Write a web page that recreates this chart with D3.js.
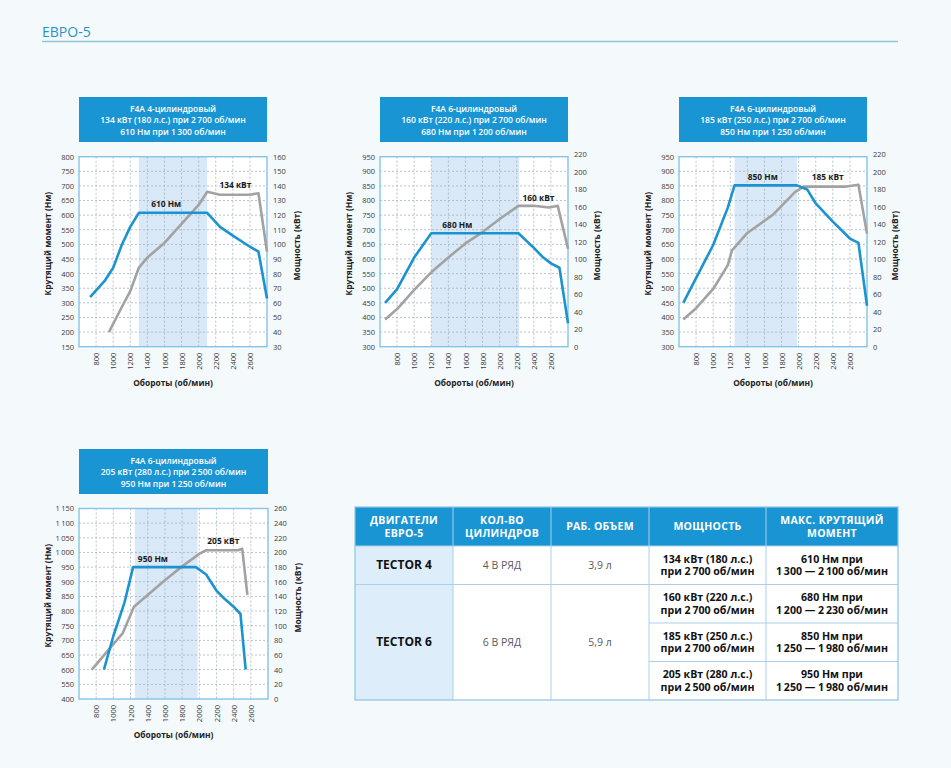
<!DOCTYPE html>
<html><head><meta charset="utf-8">
<script src="https://cdn.jsdelivr.net/npm/d3@7/dist/d3.min.js"></script>
<style>
body{margin:0;background:#f4f9fc;}
svg{display:block;font-family:'Open Sans','Noto Sans',sans-serif;}
</style></head><body>
<svg id="c" width="951" height="768"></svg>
<script>
// ---------- DATA ----------
const rpmDomain = [600, 2800];
const xTicks = [800, 1000, 1200, 1400, 1600, 1800, 2000, 2200, 2400, 2600];

// Chart 1: F4A 4-cyl
const c1Title = ["F4A 4-цилиндровый", "134 кВт (180 л.с.) при 2\u2009700 об/мин", "610 Нм при 1\u2009300 об/мин"];
const c1LeftTicks = [150, 200, 250, 300, 350, 400, 450, 500, 550, 600, 650, 700, 750, 800];
const c1LeftLabels = ["150", "200", "250", "300", "350", "400", "450", "500", "550", "600", "650", "700", "750", "800"];
const c1RightTicks = [30, 40, 50, 60, 70, 80, 90, 100, 110, 120, 130, 140, 150, 160];
const c1Shade = [1300, 2100];
const c1Torque = [[730,320],[900,375],[1000,420],[1100,498],[1200,560],[1300,608],[2100,608],[2250,560],[2400,530],[2600,492],[2700,475],[2800,315]];
const c1Power = [[950,40],[1100,57],[1200,68],[1300,84],[1400,91],[1600,101],[1800,114],[2000,127],[2100,136],[2250,134],[2600,134],[2700,135],[2800,95]];
const c1Labels = ["610 Нм", "134 кВт"];

// Chart 2: F4A 6-cyl 160 kW
const c2Title = ["F4A 6-цилиндровый", "160 кВт (220 л.с.) при 2\u2009700 об/мин", "680 Нм при 1\u2009200 об/мин"];
const c2LeftTicks = [300, 350, 400, 450, 500, 550, 600, 650, 700, 750, 800, 850, 900, 950];
const c2LeftLabels = ["300", "350", "400", "450", "500", "550", "600", "650", "700", "750", "800", "850", "900", "950"];
const c2RightTicks = [0, 20, 40, 60, 80, 100, 120, 140, 160, 180, 200, 220];
const c2Shade = [1200, 2230];
const c2Torque = [[660,450],[800,497],[1000,605],[1200,688],[2220,688],[2400,638],[2500,608],[2600,585],[2700,570],[2800,380]];
const c2Power = [[660,31],[800,43],[1000,65],[1200,85],[1400,102],[1600,118],[1800,131],[2000,146],[2220,161],[2400,161],[2580,159],[2680,161],[2800,112]];
const c2Labels = ["680 Нм", "160 кВт"];

// Chart 3: F4A 6-cyl 185 kW
const c3Title = ["F4A 6-цилиндровый", "185 кВт (250 л.с.) при 2\u2009700 об/мин", "850 Нм при 1\u2009250 об/мин"];
const c3LeftTicks = c2LeftTicks;
const c3LeftLabels = c2LeftLabels;
const c3RightTicks = c2RightTicks;
const c3Shade = [1250, 1980];
const c3Torque = [[650,450],[1000,648],[1170,775],[1250,852],[1980,852],[2100,838],[2200,790],[2400,728],[2600,670],[2700,655],[2800,440]];
const c3Power = [[650,31],[800,44],[1000,66],[1170,93],[1220,110],[1400,130],[1600,144],[1700,151],[1800,161],[1960,177],[2060,183],[2560,183],[2700,185],[2800,129]];
const c3Labels = ["850 Нм", "185 кВт"];

// Chart 4: F4A 6-cyl 205 kW
const c4Title = ["F4A 6-цилиндровый", "205 кВт (280 л.с.) при 2\u2009500 об/мин", "950 Нм при 1\u2009250 об/мин"];
const c4LeftTicks = [500, 550, 600, 650, 700, 750, 800, 850, 900, 950, 1000, 1050, 1100, 1150];
const c4LeftLabels = ["400", "550", "600", "650", "700", "750", "800", "850", "900", "950", "1\u2009000", "1\u2009050", "1\u2009100", "1\u2009150"];
const c4RightTicks = [0, 20, 40, 60, 80, 100, 120, 140, 160, 180, 200, 220, 240, 260];
const c4Shade = [1250, 1980];
const c4Torque = [[890,600],[1000,715],[1130,830],[1230,950],[1960,950],[2080,925],[2200,870],[2300,840],[2400,815],[2480,790],[2540,600]];
const c4Power = [[750,40],[1000,75],[1110,90],[1240,126],[1420,144],[1600,162],[1800,181],[2000,198],[2080,203],[2450,203],[2500,205],[2560,142]];
const c4Labels = ["950 Нм", "205 кВт"];

// Table
const tableHeaders = [["ДВИГАТЕЛИ", "ЕВРО-5"], ["КОЛ-ВО", "ЦИЛИНДРОВ"], ["РАБ. ОБЪЕМ"], ["МОЩНОСТЬ"], ["МАКС. КРУТЯЩИЙ", "МОМЕНТ"]];
const tableEngines = ["TECTOR 4", "TECTOR 6"];
const tableCylinders = ["4 В РЯД", "6 В РЯД"];
const tableVolumes = ["3,9 л", "5,9 л"];
const tablePower = [
  ["134 кВт (180 л.с.)", "при 2\u2009700 об/мин"],
  ["160 кВт (220 л.с.)", "при 2\u2009700 об/мин"],
  ["185 кВт (250 л.с.)", "при 2\u2009700 об/мин"],
  ["205 кВт (280 л.с.)", "при 2\u2009500 об/мин"]];
const tableTorque = [
  ["610 Нм при", "1\u2009300 — 2\u2009100 об/мин"],
  ["680 Нм при", "1\u2009200 — 2\u2009230 об/мин"],
  ["850 Нм при", "1\u2009250 — 1\u2009980 об/мин"],
  ["950 Нм при", "1\u2009250 — 1\u2009980 об/мин"]];

// ---------- STYLE ----------
const BLUE = "#1b93d0", GRAY = "#a2a2a2", BOX = "#1a95d3", SHADE = "#d9e9f8", FRAME = "#86c4e8", GRID = "#9aabb8";

const svg = d3.select("#c");

// Header
svg.append("text").attr("x", 42).attr("y", 37).attr("fill", "#1f95c9")
  .style("font-size", "14px").text("ЕВРО-5");
svg.append("line").attr("x1", 42).attr("x2", 898).attr("y1", 41.5).attr("y2", 41.5)
  .attr("stroke", "#8cc6da").attr("stroke-width", 1.5);

function drawChart(c) {
  const g = svg.append("g");
  const x = d3.scaleLinear().domain(rpmDomain).range([c.x0, c.x1]);
  const yL = d3.scaleLinear().domain([c.leftTicks[0], c.leftTicks[c.leftTicks.length - 1]]).range([c.y1, c.y0]);
  const yR = d3.scaleLinear().domain([c.rightTicks[0], c.rightTicks[c.rightTicks.length - 1]]).range([c.y1, c.y0 - c.rightOver]);

  // title box
  g.append("rect").attr("x", c.x0).attr("y", c.boxY).attr("width", c.x1 - c.x0).attr("height", 45).attr("fill", BOX);
  g.selectAll(".tt").data(c.title).join("text")
    .attr("x", (c.x0 + c.x1) / 2).attr("y", (d, i) => c.boxY + 14.5 + i * 11.6)
    .attr("text-anchor", "middle").attr("fill", "#fff")
    .style("font-size", "8.5px").style("font-weight", 600).text(d => d);

  // plot bg + shade
  g.append("rect").attr("x", c.x0).attr("y", c.y0).attr("width", c.x1 - c.x0).attr("height", c.y1 - c.y0).attr("fill", "#fff");
  g.append("rect").attr("x", x(c.shade[0])).attr("y", c.y0).attr("width", x(c.shade[1]) - x(c.shade[0]))
    .attr("height", c.y1 - c.y0).attr("fill", SHADE);

  // grid
  g.selectAll(".hg").data(c.leftTicks.slice(1, -1)).join("line")
    .attr("x1", c.x0).attr("x2", c.x1).attr("y1", d => yL(d)).attr("y2", d => yL(d))
    .attr("stroke", GRID).attr("stroke-width", 0.7).attr("stroke-dasharray", "2,2");
  g.selectAll(".vg").data(xTicks).join("line")
    .attr("x1", d => x(d)).attr("x2", d => x(d)).attr("y1", c.y0).attr("y2", c.y1)
    .attr("stroke", GRID).attr("stroke-width", 0.7).attr("stroke-dasharray", "2,2");

  // frame
  g.append("rect").attr("x", c.x0).attr("y", c.y0).attr("width", c.x1 - c.x0).attr("height", c.y1 - c.y0)
    .attr("fill", "none").attr("stroke", FRAME).attr("stroke-width", 1.4);

  // axes
  const la = g.append("g").attr("transform", `translate(${c.x0},0)`)
    .call(d3.axisLeft(yL).tickValues(c.leftTicks).tickFormat((d, i) => c.leftLabels[i]).tickSize(0).tickPadding(5));
  const ra = g.append("g").attr("transform", `translate(${c.x1},0)`)
    .call(d3.axisRight(yR).tickValues(c.rightTicks).tickFormat(d3.format("d")).tickSize(0).tickPadding(6));
  const ba = g.append("g").attr("transform", `translate(0,${c.y1})`)
    .call(d3.axisBottom(x).tickValues(xTicks).tickFormat(d3.format("d")).tickSize(0));
  ba.selectAll("text").attr("transform", "rotate(-90)").attr("x", -6).attr("y", 0).attr("dy", "0.35em")
    .attr("text-anchor", "end");
  [la, ra, ba].forEach(a => {
    a.select(".domain").remove();
    a.selectAll("text").attr("fill", "#3a3a3a").style("font-size", "7.5px").style("font-family", "'Open Sans','Noto Sans',sans-serif");
  });

  // axis titles
  g.append("text").attr("transform", `translate(${c.x0 - 31},${(c.y0 + c.y1) / 2 - 8}) rotate(-90)`)
    .attr("text-anchor", "middle").attr("dy", "0.35em").attr("fill", "#222")
    .style("font-size", "8.4px").style("font-weight", 700).text("Крутящий момент (Нм)");
  g.append("text").attr("transform", `translate(${c.x1 + c.rightTitleOff},${(c.y0 + c.y1) / 2 - 6}) rotate(-90)`)
    .attr("text-anchor", "middle").attr("dy", "0.35em").attr("fill", "#222")
    .style("font-size", "8.4px").style("font-weight", 700).text("Мощность (кВт)");
  g.append("text").attr("x", (c.x0 + c.x1) / 2).attr("y", c.y1 + 39)
    .attr("text-anchor", "middle").attr("fill", "#222")
    .style("font-size", "8.4px").style("font-weight", 700).text("Обороты (об/мин)");

  // lines
  const lineT = d3.line().x(d => x(d[0])).y(d => yL(d[1]));
  const lineP = d3.line().x(d => x(d[0])).y(d => yR(d[1]));
  g.append("path").attr("d", lineP(c.power)).attr("fill", "none").attr("stroke", GRAY)
    .attr("stroke-width", 2.6).attr("stroke-linejoin", "round");
  g.append("path").attr("d", lineT(c.torque)).attr("fill", "none").attr("stroke", BLUE)
    .attr("stroke-width", 2.6).attr("stroke-linejoin", "round");

  // annotations
  const tMax = d3.max(c.torque, d => d[1]);
  const pFlat = c.power[c.power.length - 3][1];
  g.append("text").attr("x", x(c.labelRpm[0])).attr("y", yL(tMax) - 5.5).attr("text-anchor", "middle")
    .attr("fill", "#1a1a1a").style("font-size", "8.4px").style("font-weight", 700).text(c.labels[0]);
  g.append("text").attr("x", x(c.labelRpm[1])).attr("y", c.powerLabelY === undefined ? yR(pFlat) - 6.5 : c.powerLabelY(yR))
    .attr("text-anchor", "middle")
    .attr("fill", "#1a1a1a").style("font-size", "8.4px").style("font-weight", 700).text(c.labels[1]);
}

drawChart({x0: 79, x1: 267, y0: 156.7, y1: 346.7, boxY: 97, rightOver: 0, rightTitleOff: 30,
  title: c1Title, leftTicks: c1LeftTicks, leftLabels: c1LeftLabels, rightTicks: c1RightTicks,
  shade: c1Shade, torque: c1Torque, power: c1Power, labels: c1Labels, labelRpm: [1620, 2430]});
drawChart({x0: 380, x1: 568, y0: 156.7, y1: 346.7, boxY: 97, rightOver: 2.5, rightTitleOff: 29,
  title: c2Title, leftTicks: c2LeftTicks, leftLabels: c2LeftLabels, rightTicks: c2RightTicks,
  shade: c2Shade, torque: c2Torque, power: c2Power, labels: c2Labels, labelRpm: [1505, 2455]});
drawChart({x0: 679, x1: 867, y0: 156.7, y1: 346.7, boxY: 97, rightOver: 2.5, rightTitleOff: 28,
  title: c3Title, leftTicks: c3LeftTicks, leftLabels: c3LeftLabels, rightTicks: c3RightTicks,
  shade: c3Shade, torque: c3Torque, power: c3Power, labels: c3Labels, labelRpm: [1580, 2340],
  powerLabelY: yR => yR(183) - 6.5});
drawChart({x0: 79, x1: 268, y0: 508.5, y1: 699, boxY: 449, rightOver: 0, rightTitleOff: 30,
  title: c4Title, leftTicks: c4LeftTicks, leftLabels: c4LeftLabels, rightTicks: c4RightTicks,
  shade: c4Shade, torque: c4Torque, power: c4Power, labels: c4Labels, labelRpm: [1460, 2280]});

// ---------- TABLE ----------
const colX = [355, 453, 551, 649, 766, 898];
const rowY = [507, 546, 584.5, 623, 661.5, 700];
const tg = svg.append("g");
const LINE = "#a9d0ea";
// backgrounds
tg.append("rect").attr("x", colX[0]).attr("y", rowY[0]).attr("width", colX[5] - colX[0]).attr("height", rowY[5] - rowY[0]).attr("fill", "#fff");
tg.append("rect").attr("x", colX[0]).attr("y", rowY[0]).attr("width", colX[5] - colX[0]).attr("height", rowY[1] - rowY[0]).attr("fill", BOX);
tg.append("rect").attr("x", colX[0]).attr("y", rowY[1]).attr("width", colX[1] - colX[0]).attr("height", rowY[5] - rowY[1]).attr("fill", "#deedfa");
// header text
tableHeaders.forEach((h, i) => {
  const cx = (colX[i] + colX[i + 1]) / 2, cy = (rowY[0] + rowY[1]) / 2;
  tg.selectAll(null).data(h).join("text").attr("x", cx)
    .attr("y", (d, j) => cy + (j - (h.length - 1) / 2) * 12.5 + 3.8)
    .attr("text-anchor", "middle").attr("fill", "#fff").style("font-size", "10.5px").style("font-weight", 700)
    .style("letter-spacing", "0.3px").text(d => d);
});
// grid lines
const hLines = [rowY[1], rowY[2], rowY[3], rowY[4]];
tg.selectAll(".hl").data(hLines).join("line")
  .attr("x1", (d, i) => i >= 2 ? colX[3] : colX[0]).attr("x2", colX[5])
  .attr("y1", d => d).attr("y2", d => d).attr("stroke", LINE).attr("stroke-width", 1);
tg.selectAll(".vl").data(colX.slice(1, -1)).join("line")
  .attr("x1", d => d).attr("x2", d => d).attr("y1", rowY[0]).attr("y2", rowY[5])
  .attr("stroke", LINE).attr("stroke-width", 1);
tg.append("rect").attr("x", colX[0]).attr("y", rowY[0]).attr("width", colX[5] - colX[0]).attr("height", rowY[5] - rowY[0])
  .attr("fill", "none").attr("stroke", "#8fc3e3").attr("stroke-width", 1.2);
// body text
const engineRowsY = [(rowY[1] + rowY[2]) / 2, (rowY[2] + rowY[5]) / 2];
tableEngines.forEach((e, i) => {
  tg.append("text").attr("x", (colX[0] + colX[1]) / 2).attr("y", engineRowsY[i] + 4.2).attr("text-anchor", "middle")
    .attr("fill", "#111").style("font-size", "12px").style("font-weight", 700).text(e);
  tg.append("text").attr("x", (colX[1] + colX[2]) / 2).attr("y", engineRowsY[i] + 3.8).attr("text-anchor", "middle")
    .attr("fill", "#5a5a5a").style("font-size", "10.5px").text(tableCylinders[i]);
  tg.append("text").attr("x", (colX[2] + colX[3]) / 2).attr("y", engineRowsY[i] + 3.8).attr("text-anchor", "middle")
    .attr("fill", "#5a5a5a").style("font-size", "10.5px").text(tableVolumes[i]);
});
tablePower.forEach((p, r) => {
  const cy = (rowY[r + 1] + rowY[r + 2]) / 2;
  [[p, 3], [tableTorque[r], 4]].forEach(([lines, col]) => {
    tg.selectAll(null).data(lines).join("text").attr("x", (colX[col] + colX[col + 1]) / 2)
      .attr("y", (d, j) => cy + (j - 0.5) * 12.7 + 3.6).attr("text-anchor", "middle")
      .attr("fill", "#111").style("font-size", "10.6px").style("font-weight", 700).text(d => d);
  });
});
</script>
</body></html>
